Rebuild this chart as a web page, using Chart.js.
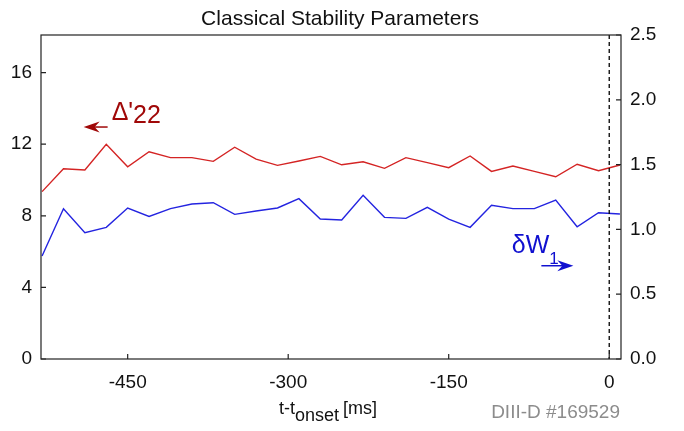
<!DOCTYPE html>
<html>
<head>
<meta charset="utf-8">
<script src="https://cdn.jsdelivr.net/npm/chart.js@4/dist/chart.umd.min.js"></script>
<style>
  html, body { margin: 0; padding: 0; background: #fff; }
  #wrap { width: 684px; height: 431px; }
</style>
</head>
<body>
<div id="wrap"><canvas id="graphique"></canvas></div>
<script>
const FONT = "'Liberation Sans', Arial, sans-serif";

// temps relatif a l'onset (ms)
const temps = [-530, -510, -490, -470, -450, -430, -410, -390, -370, -350, -330, -310, -290, -270,
               -250, -230, -210, -190, -170, -150, -130, -110, -90, -70, -50, -30, -10, 10];
// Delta'22 (axe gauche)
const delta22 = [9.35, 10.63, 10.56, 11.99, 10.74, 11.58, 11.25, 11.25, 11.04, 11.83, 11.17, 10.82, 11.06, 11.32,
                 10.85, 11.02, 10.65, 11.25, 10.97, 10.69, 11.34, 10.48, 10.78, 10.48, 10.18, 10.88, 10.52, 10.84];
// deltaW1 (axe droit)
const deltaW1 = [0.795, 1.16, 0.975, 1.016, 1.165, 1.10, 1.16, 1.196, 1.206, 1.116, 1.142, 1.165, 1.237, 1.08,
                 1.073, 1.263, 1.093, 1.085, 1.17, 1.08, 1.016, 1.186, 1.16, 1.16, 1.227, 1.02, 1.129, 1.119];
const xTicks = [-450, -300, -150, 0];
const yLeftTicks = [0, 4, 8, 12, 16];
const yRightTicks = [0, 0.5, 1.0, 1.5, 2.0, 2.5];

// cadre, graduations internes, ligne pointillee et textes
const decor = {
   id: 'decor',
   afterDraw(chart) {
      const c = chart.ctx;
      const a = chart.chartArea;
      const sx = chart.scales.x, sl = chart.scales.yL, sr = chart.scales.yR;
      c.save();
      // ligne pointillee a t=0
      const x0 = sx.getPixelForValue(0);
      c.strokeStyle = '#000';
      c.lineWidth = 1.3;
      c.setLineDash([4, 3]);
      c.beginPath(); c.moveTo(x0, a.top); c.lineTo(x0, a.bottom); c.stroke();
      c.setLineDash([]);
      // cadre
      c.lineWidth = 1.2;
      c.strokeStyle = '#222';
      c.strokeRect(a.left, a.top, a.right - a.left, a.bottom - a.top);
      // graduations vers l'interieur
      c.beginPath();
      xTicks.forEach(v => { const p = sx.getPixelForValue(v); c.moveTo(p, a.bottom); c.lineTo(p, a.bottom - 5); });
      yLeftTicks.forEach(v => { const p = sl.getPixelForValue(v); c.moveTo(a.left, p); c.lineTo(a.left + 5, p); });
      yRightTicks.forEach(v => { const p = sr.getPixelForValue(v); c.moveTo(a.right, p); c.lineTo(a.right - 5, p); });
      c.stroke();

      // titre
      c.fillStyle = '#111';
      c.font = '21px ' + FONT;
      c.textAlign = 'center';
      c.textBaseline = 'alphabetic';
      c.fillText('Classical Stability Parameters', 340, 25);

      // titre axe x avec indice
      c.textAlign = 'left';
      c.font = '18px ' + FONT;
      let x = 279;
      c.fillText('t-t', x, 414); x += c.measureText('t-t').width;
      c.fillText('onset', x, 421); x += c.measureText('onset').width + 4;
      c.fillText('[ms]', x, 414);

      // numero de choc
      c.fillStyle = '#8c8c8c';
      c.font = '19px ' + FONT;
      c.textAlign = 'right';
      c.fillText('DIII-D #169529', 620, 418);

      // etiquette Delta'22
      const rx = sx.getPixelForValue(-465), ry = sl.getPixelForValue(13.35);
      c.fillStyle = '#a00808';
      c.strokeStyle = '#a00808';
      c.textAlign = 'left';
      c.font = '25px ' + FONT;
      c.fillText("\u0394'", rx, ry);
      c.fillText('22', rx + c.measureText("\u0394'").width, ry + 3);
      arrow(c, rx - 4, ry + 7, rx - 28, ry + 7);

      // etiquette deltaW1
      const bx = sx.getPixelForValue(-91), by = sr.getPixelForValue(0.82);
      c.fillStyle = '#1010d0';
      c.strokeStyle = '#1010d0';
      c.font = '25px ' + FONT;
      c.fillText('\u03b4W', bx, by);
      const w = c.measureText('\u03b4W').width;
      c.font = '17px ' + FONT;
      c.fillText('1', bx + w, by + 11);
      arrow(c, bx + w - 8, by + 13, bx + w + 24, by + 13);
      c.restore();
   }
};

function arrow(c, x1, y1, x2, y2) {
   const dir = Math.sign(x2 - x1);
   c.lineWidth = 1.5;
   c.beginPath(); c.moveTo(x1, y1); c.lineTo(x2 - dir * 8, y2); c.stroke();
   c.beginPath();
   c.moveTo(x2, y2);
   c.lineTo(x2 - dir * 16, y2 - 5.5);
   c.lineTo(x2 - dir * 11, y2);
   c.lineTo(x2 - dir * 16, y2 + 5.5);
   c.closePath();
   c.fill();
}

const element = document.getElementById('graphique');
const myChart = new Chart(element, {
   type: 'line',
   data: {
      datasets: [{
         label: "Delta'22",
         data: temps.map((t, i) => ({ x: t, y: delta22[i] })),
         borderColor: '#d42424',
         borderWidth: 1.4,
         yAxisID: 'yL'
      }, {
         label: 'deltaW1',
         data: temps.map((t, i) => ({ x: t, y: deltaW1[i] })),
         borderColor: '#2424e0',
         borderWidth: 1.4,
         yAxisID: 'yR'
      }]
   },
   options: {
      responsive: true,
      maintainAspectRatio: false,
      animation: false,
      elements: { point: { radius: 0 }, line: { tension: 0 } },
      plugins: { legend: { display: false }, tooltip: { enabled: false } },
      layout: { padding: { top: 35, left: 0, right: 0, bottom: 0 } },
      scales: {
         x: {
            type: 'linear',
            min: -531, max: 11,
            afterBuildTicks: s => { s.ticks = xTicks.map(v => ({ value: v })); },
            afterFit: s => { s.height = 72; },
            grid: { display: false, drawTicks: false },
            border: { display: false },
            ticks: { padding: 12, color: '#111', font: { family: FONT, size: 19 } }
         },
         yL: {
            position: 'left',
            min: 0, max: 18.1,
            afterBuildTicks: s => { s.ticks = yLeftTicks.map(v => ({ value: v })); },
            afterFit: s => { s.width = 41; },
            grid: { display: false, drawTicks: false },
            border: { display: false },
            ticks: { padding: 9, color: '#111', font: { family: FONT, size: 19 } }
         },
         yR: {
            position: 'right',
            min: 0, max: 2.5,
            afterBuildTicks: s => { s.ticks = yRightTicks.map(v => ({ value: v })); },
            afterFit: s => { s.width = 63; },
            grid: { display: false, drawTicks: false },
            border: { display: false },
            ticks: { padding: 9, color: '#111', font: { family: FONT, size: 19 },
                     callback: v => v.toFixed(1) }
         }
      }
   },
   plugins: [decor]
});
</script>
</body>
</html>
